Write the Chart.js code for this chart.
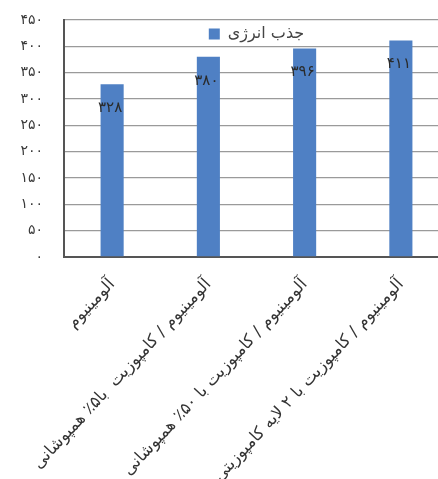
<!DOCTYPE html>
<html>
<head>
<meta charset="utf-8">
<script src="https://cdn.jsdelivr.net/npm/chart.js@4.4.0/dist/chart.umd.min.js"></script>
<style>
  html, body { margin: 0; padding: 0; background: #fff; overflow: hidden; }
  #wrap { width: 452px; height: 479px; }
</style>
</head>
<body>
<div id="wrap"><canvas id="c" width="452" height="479"></canvas></div>
<script>
const categories = [
    "آلومینیوم",
    "آلومینیوم / کامپوزیت  با۵٪ همپوشانی",
    "آلومینیوم / کامپوزیت با ۵۰٪ همپوشانی",
    "آلومینیوم / کامپوزیت با ۲ لایه کامپوزیتی",
];
const energy = [328, 380, 396, 411];
const seriesName = "جذب انرژی";
const yTicks = [0, 50, 100, 150, 200, 250, 300, 350, 400, 450];

const faDigits = '۰۱۲۳۴۵۶۷۸۹';
function toFa(n) {
    return String(n).replace(/[0-9]/g, d => faDigits[d]);
}

// values drawn inside the top of each bar
const barLabels = {
    id: 'barLabels',
    afterDatasetsDraw(chart) {
        const ctx = chart.ctx;
        const meta = chart.getDatasetMeta(0);
        ctx.save();
        ctx.font = '15px "DejaVu Sans"';
        ctx.fillStyle = '#2a2a2a';
        ctx.textAlign = 'center';
        ctx.textBaseline = 'middle';
        meta.data.forEach((bar, i) => {
            ctx.fillText(toFa(energy[i]), bar.x - 2, bar.y + 24);
        });
        ctx.restore();
    }
};

// legend inside the plot, near its top
const innerLegend = {
    id: 'innerLegend',
    afterDraw(chart) {
        const ctx = chart.ctx;
        const area = chart.chartArea;
        const ds = chart.data.datasets[0];
        ctx.save();
        ctx.font = '16px "DejaVu Sans"';
        const tw = ctx.measureText(ds.label).width;
        const total = 11 + 8 + tw;
        const x0 = (area.left + area.right) / 2 - total / 2;
        const cy = area.top + 14;
        ctx.fillStyle = ds.backgroundColor;
        ctx.fillRect(x0, cy - 5.5, 11, 11);
        ctx.fillStyle = '#444';
        ctx.textAlign = 'left';
        ctx.textBaseline = 'middle';
        ctx.fillText(ds.label, x0 + 19, cy);
        ctx.restore();
    }
};

new Chart(document.getElementById('c').getContext('2d'), {
    type: 'bar',
    data: {
        labels: categories,
        datasets: [
            {
                label: seriesName,
                data: energy,
                backgroundColor: '#4f80c4',
                barPercentage: 0.48,
                categoryPercentage: 0.5,
            }
        ],
    },
    options: {
        responsive: false,
        animation: false,
        layout: { padding: { left: 0, right: 3, top: 20, bottom: 0 } },
        plugins: {
            legend: { display: false },
            tooltip: { enabled: false },
        },
        scales: {
            y: {
                min: 0,
                max: 450,
                afterFit: (s) => { s.width = 64; s.paddingTop = 0; },
                afterBuildTicks: (s) => { s.ticks = yTicks.map(v => ({ value: v })); },
                ticks: {
                    padding: 21,
                    color: '#3a3a3a',
                    font: { family: 'DejaVu Sans', size: 14 },
                    callback: (v) => toFa(v),
                },
                grid: { color: '#9a9a9a', lineWidth: 1.3, drawTicks: false },
                border: { color: '#555', width: 2 },
            },
            x: {
                afterFit: (s) => { s.height = 222; },
                ticks: {
                    autoSkip: false,
                    minRotation: 47,
                    maxRotation: 47,
                    padding: 18,
                    color: '#333',
                    font: { family: 'DejaVu Sans', size: 16.5 },
                },
                grid: { display: false, drawTicks: false },
                border: { color: '#555', width: 2 },
            }
        }
    },
    plugins: [barLabels, innerLegend]
});
</script>
</body>
</html>
